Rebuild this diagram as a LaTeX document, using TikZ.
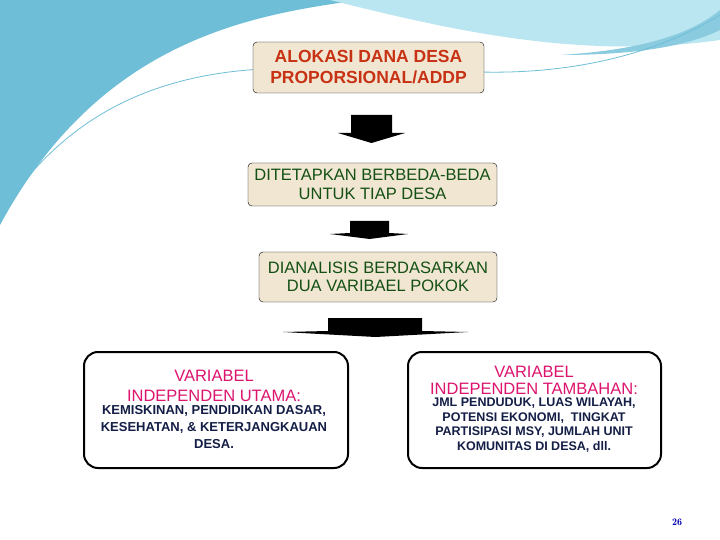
\documentclass[tikz,border=0pt]{standalone}
\usepackage{fontspec}
\setmainfont{Liberation Sans}
\usetikzlibrary{positioning}
\definecolor{boxfill}{RGB}{240,230,210}
\definecolor{titlered}{RGB}{200,50,20}
\definecolor{stepgreen}{RGB}{20,80,20}
\definecolor{headpink}{RGB}{220,20,110}
\definecolor{bodynavy}{RGB}{20,30,70}
\definecolor{wavedark}{RGB}{110,190,215}
\definecolor{wavelight}{RGB}{185,230,240}
\tikzstyle{stepbox}=[draw,fill=boxfill,rounded corners=4pt,align=center,inner sep=1pt,font=\fontsize{16.5}{18.5}\selectfont]
\tikzstyle{varbox}=[draw,line width=2pt,rounded corners=14pt,fill=white,align=center,minimum width=264pt,minimum height=116pt]
\tikzstyle{blockarrow}=[fill=black]

\begin{document}
\begin{tikzpicture}[x=1pt,y=-1pt]
\useasboundingbox (0,0) rectangle (720,540);
\fill[white] (0,0) rectangle (720,540);
% top wave
\fill[wavedark] (0,0) -- (360,0) .. controls (250,15) and (100,40) .. (0,225) -- cycle;
\fill[wavelight] (330,0) .. controls (450,30) and (580,60) .. (720,40) -- (720,0) -- cycle;
\fill[wavedark!80] (560,55) .. controls (640,50) and (690,35) .. (720,10) -- (720,30) .. controls (690,45) and (640,55) .. (560,55) -- cycle;
\draw[wavedark,line width=0.8pt] (0,215) .. controls (80,90) and (200,60) .. (340,70);
\draw[wavedark,line width=0.8pt] (480,72) .. controls (600,75) and (680,40) .. (720,15);

\node[stepbox,text=titlered,font=\bfseries\fontsize{17.5}{21}\selectfont,minimum width=231pt,minimum height=51pt] (alokasi) at (368.5,67.5) {ALOKASI DANA DESA\\PROPORSIONAL/ADDP};
\node[stepbox,text=stepgreen,minimum width=249pt,minimum height=43pt] (ditetapkan) at (372.5,184.5) {DITETAPKAN BERBEDA-BEDA\\UNTUK TIAP DESA};
\node[stepbox,text=stepgreen,minimum width=238pt,minimum height=50pt] (dianalisis) at (378,277) {DIANALISIS BERDASARKAN\\DUA VARIBAEL POKOK};

\node[varbox] (utama) at (216,410) {};
\node[align=center,text=headpink,font=\fontsize{16.5}{20}\selectfont] (utamahead) at (214,386) {VARIABEL\\INDEPENDEN UTAMA:};
\node[align=center,text=bodynavy,font=\bfseries\fontsize{13}{17}\selectfont,below=-3pt of utamahead] (utamabody) {KEMISKINAN, PENDIDIKAN DASAR,\\KESEHATAN, \& KETERJANGKAUAN\\DESA.};

\node[varbox,minimum width=253pt] (tambahan) at (534.5,410) {};
\node[align=center,text=headpink,font=\fontsize{16.5}{17}\selectfont] (tambahanhead) at (534,380) {VARIABEL\\INDEPENDEN TAMBAHAN:};
\node[align=center,text=bodynavy,font=\bfseries\fontsize{12.5}{14.5}\selectfont,below=-3pt of tambahanhead] (tambahanbody) {JML PENDUDUK, LUAS WILAYAH,\\POTENSI EKONOMI,\ \ TINGKAT\\PARTISIPASI MSY, JUMLAH UNIT\\KOMUNITAS DI DESA, dll.};

% block arrows
\fill[blockarrow] (351,115) -- (392,115) -- (392,133) -- (405,133) -- (371.5,143) -- (338,133) -- (351,133) -- cycle;
\fill[blockarrow] (350,221) -- (389,221) -- (389,233) -- (408,234) -- (369.5,239) -- (330,234) -- (350,233) -- cycle;
\fill[blockarrow] (328,318) -- (422,318) -- (422,331) -- (468,332) -- (375.5,337) -- (283,332) -- (328,331) -- cycle;

\node[text=blue!70!black,font=\fontfamily{lmr}\selectfont\bfseries] (page) at (677,522) {26};
\end{tikzpicture}
\end{document}
